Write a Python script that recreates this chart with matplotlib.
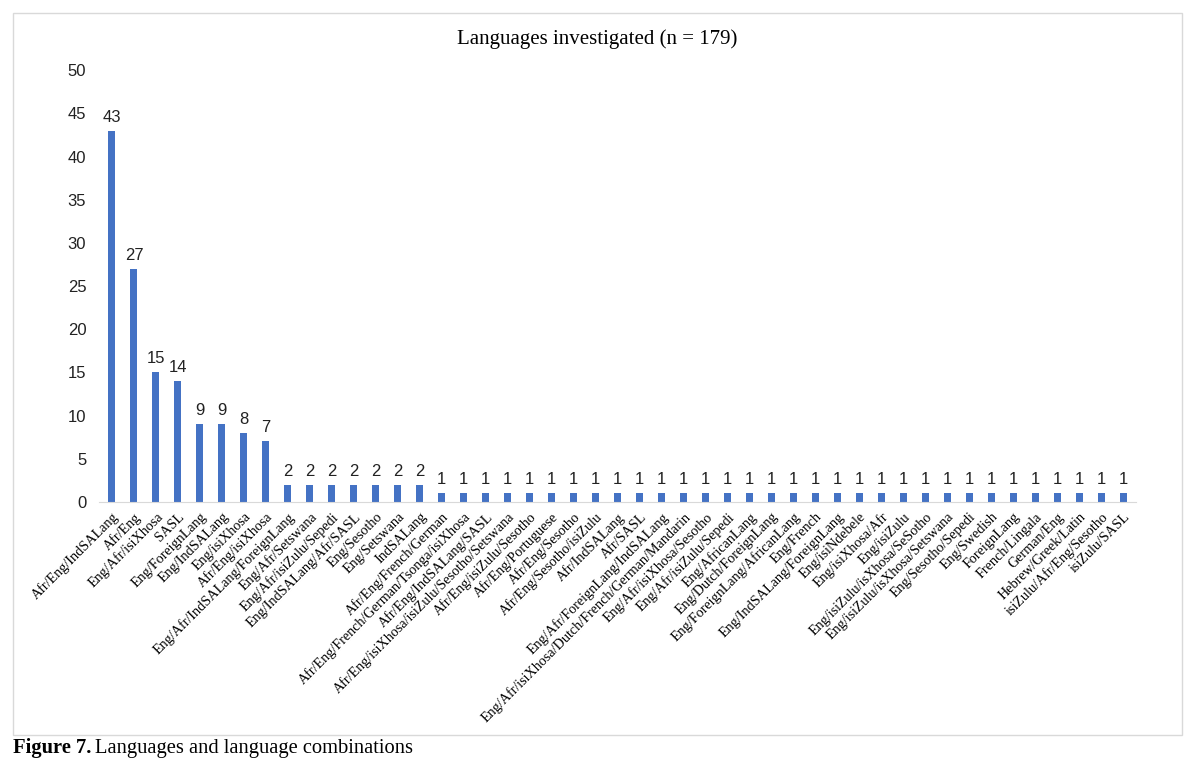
import matplotlib
matplotlib.use("Agg")
import matplotlib.pyplot as plt
from matplotlib.patches import Rectangle

# languages and counts
languages = [
    "Afr/Eng/IndSALang", "Afr/Eng", "Eng/Afr/isiXhosa", "SASL",
    "Eng/ForeignLang", "Eng/IndSALang", "Eng/isiXhosa", "Afr/Eng/isiXhosa",
    "Eng/Afr/IndSALang/ForeignLang", "Eng/Afr/Setswana", "Eng/Afr/isiZulu/Sepedi",
    "Eng/IndSALang/Afr/SASL", "Eng/Sesotho", "Eng/Setswana", "IndSALang",
    "Afr/Eng/French/German", "Afr/Eng/French/German/Tsonga/isiXhosa",
    "Afr/Eng/IndSALang/SASL", "Afr/Eng/isiXhosa/isiZulu/Sesotho/Setswana",
    "Afr/Eng/isiZulu/Sesotho", "Afr/Eng/Portuguese", "Afr/Eng/Sesotho",
    "Afr/Eng/Sesotho/isiZulu", "Afr/IndSALang", "Afr/SASL",
    "Eng/Afr/ForeignLang/IndSALang", "Eng/Afr/isiXhosa/Dutch/French/German/Mandarin",
    "Eng/Afr/isiXhosa/Sesotho", "Eng/Afr/isiZulu/Sepedi", "Eng/AfricanLang",
    "Eng/Dutch/ForeignLang", "Eng/ForeignLang/AfricanLang", "Eng/French",
    "Eng/IndSALang/ForeignLang", "Eng/isiNdebele", "Eng/isiXhosa/Afr",
    "Eng/isiZulu", "Eng/isiZulu/isXhosa/SeSotho", "Eng/isiZulu/isXhosa/Setswana",
    "Eng/Sesotho/Sepedi", "Eng/Swedish", "ForeignLang", "French/Lingala",
    "German/Eng", "Hebrew/Greek/Latin", "isiZulu/Afr/Eng/Sesotho", "isiZulu/SASL",
]
counts = [43, 27, 15, 14, 9, 9, 8, 7,
          2, 2, 2, 2, 2, 2, 2] + [1] * 32

title = "Languages investigated (n = 179)"

fig = plt.figure(figsize=(11.9, 7.71), dpi=100)
ax = fig.add_axes([0.083, 0.349, 0.872, 0.560])

x = list(range(len(languages)))
bars = ax.bar(x, counts, width=0.32, color="#4472C4", zorder=2)

# value labels above bars
for xi, v in zip(x, counts):
    ax.text(xi, v + 0.7, str(v), ha="center", va="bottom",
            fontsize=12, family="Liberation Sans", color="#222222")

ax.set_xlim(-0.6, len(languages) - 0.4)
ax.set_ylim(0, 50)
ax.set_yticks(range(0, 51, 5))
ax.set_yticklabels([str(t) for t in range(0, 51, 5)],
                   family="Liberation Sans", fontsize=12, color="#222222")
ax.set_xticks(x)
ax.set_xticklabels(languages, rotation=45, ha="right", rotation_mode="anchor",
                   family="Liberation Serif", fontsize=10.2)
ax.tick_params(axis="both", length=0)
ax.tick_params(axis="x", pad=6)
ax.tick_params(axis="y", pad=9)

for s in ["top", "right", "left"]:
    ax.spines[s].set_visible(False)
ax.spines["bottom"].set_color("#D9D9D9")

fig.text(0.502, 0.949, title, ha="center", va="center",
         family="Liberation Serif", fontsize=15)

# outer chart border
fig.patches.append(Rectangle((13 / 1190, 1 - 735 / 771), 1169 / 1190, 722 / 771,
                             transform=fig.transFigure, fill=False,
                             edgecolor="#D9D9D9", linewidth=1))

# caption below the chart
cap_y = 1 - 748 / 771
t1 = fig.text(13 / 1190, cap_y, "Figure 7.", ha="left", va="center",
              family="Liberation Serif", fontsize=14.8, weight="bold")
fig.canvas.draw()
bb = t1.get_window_extent()
fig.text((bb.x1 + 4) / 1190, cap_y, "Languages and language combinations",
         ha="left", va="center", family="Liberation Serif", fontsize=14.8)

fig.savefig("out.png", dpi=100)
